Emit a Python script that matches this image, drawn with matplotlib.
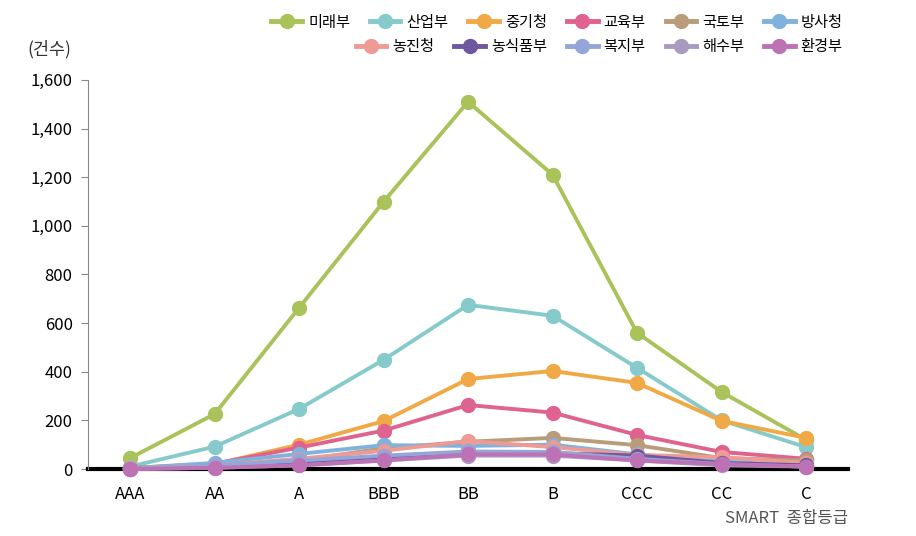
import matplotlib.pyplot as plt
from matplotlib.lines import Line2D

plt.rcParams['font.family'] = ['Liberation Sans Narrow', 'Noto Sans CJK KR', 'DejaVu Sans']

grades = ['AAA', 'AA', 'A', 'BBB', 'BB', 'B', 'CCC', 'CC', 'C']

names = ['미래부', '산업부', '중기청', '교육부', '국토부', '방사청',
         '농진청', '농식품부', '복지부', '해수부', '환경부']
colors = ['#A9C25A', '#86CACB', '#F0A945', '#E0628F', '#B99C79', '#7FB2DC',
          '#EE9A95', '#6E58A0', '#94A6D8', '#A99BC0', '#BD72B5']

mirae = [45, 226, 663, 1099, 1510, 1210, 560, 317, 120]
saneop = [10, 92, 247, 449, 675, 630, 416, 200, 90]
junggi = [5, 20, 100, 197, 370, 403, 354, 198, 128]
gyoyuk = [3, 22, 88, 158, 263, 232, 140, 70, 42]
gukto = [5, 15, 35, 85, 112, 128, 98, 45, 35]
bangsa = [3, 25, 62, 98, 95, 100, 60, 30, 15]
nongjin = [3, 15, 42, 75, 115, 90, 58, 48, 25]
nongsik = [0, 10, 30, 45, 65, 65, 55, 25, 15]
bokji = [2, 15, 35, 55, 72, 70, 42, 20, 10]
haesu = [0, 5, 15, 35, 55, 55, 35, 15, 10]
hwangyeong = [0, 5, 15, 35, 60, 60, 35, 20, 10]

series = [mirae, saneop, junggi, gyoyuk, gukto, bangsa,
          nongjin, nongsik, bokji, haesu, hwangyeong]

fig = plt.figure(figsize=(9.16, 5.36), dpi=100)
ax = fig.add_axes([0.096, 0.125, 0.83, 0.726])

x = list(range(len(grades)))
for vals, c in zip(series, colors):
    ax.plot(x, vals, color=c, linewidth=2.8, marker='o', markersize=10,
            clip_on=False, zorder=3)

ax.set_xlim(-0.5, 8.5)
ax.set_ylim(0, 1600)
ax.set_yticks(range(0, 1601, 200))
ax.set_yticklabels([f'{v:,}' for v in range(0, 1601, 200)])
ax.set_xticks(x)
ax.set_xticklabels(grades)

for s in ['top', 'right']:
    ax.spines[s].set_visible(False)
ax.spines['left'].set_color('#888888')
ax.spines['left'].set_linewidth(0.8)
ax.spines['bottom'].set_color('black')
ax.spines['bottom'].set_linewidth(3)
ax.spines['bottom'].set_zorder(2)
ax.tick_params(axis='y', direction='out', length=5, color='#888888', labelsize=12, pad=6)
ax.tick_params(axis='x', length=0, labelsize=12, pad=12)

handles = [Line2D([0], [0], color=c, linewidth=3.5, marker='o', markersize=10)
           for c in colors]
fig.legend(handles[:6], names[:6], loc='upper right', bbox_to_anchor=(0.935, 1.0),
           ncol=6, frameon=False, fontsize=11, handlelength=2.0,
           columnspacing=1.3, handletextpad=0.4)
fig.legend(handles[6:], names[6:], loc='upper right', bbox_to_anchor=(0.935, 0.955),
           ncol=5, frameon=False, fontsize=11, handlelength=2.0,
           columnspacing=1.3, handletextpad=0.4)

fig.text(0.03, 0.908, '(건수)', fontsize=12.5, ha='left', va='center', color='#333333')
fig.text(0.926, 0.032, 'SMART  종합등급', fontsize=12, ha='right', va='center', color='#555555')

fig.savefig('out.png', dpi=100)
